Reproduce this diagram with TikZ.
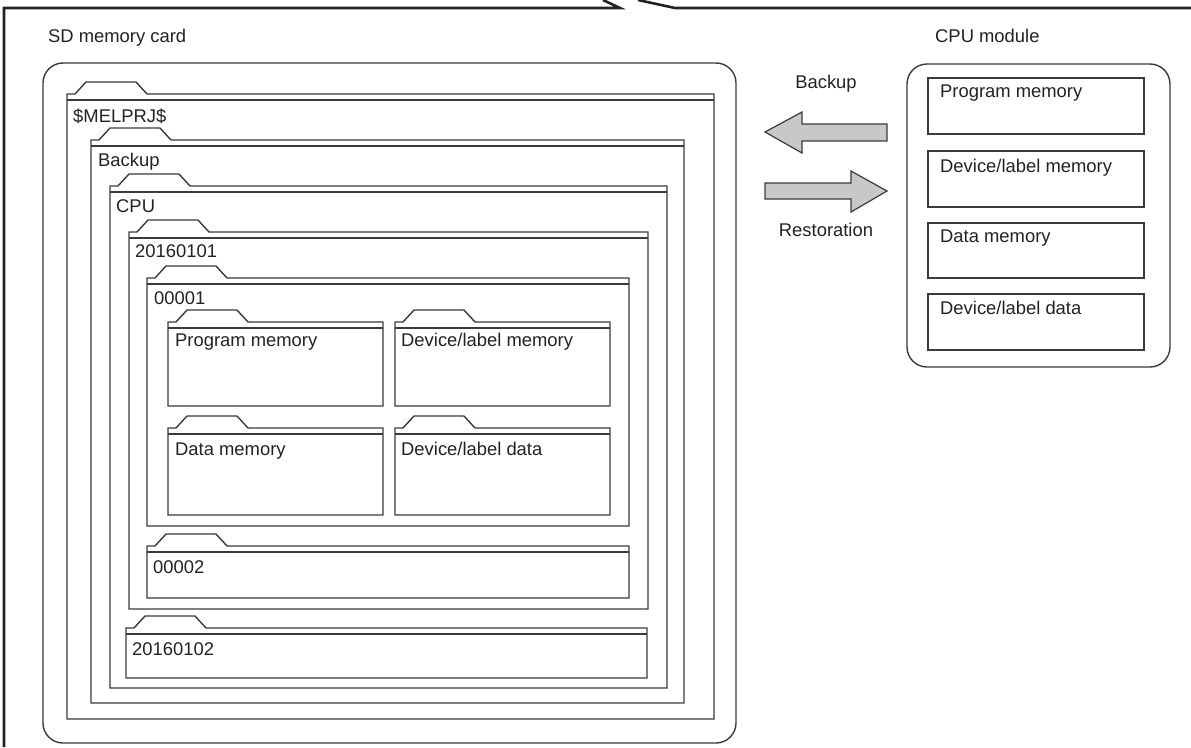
\documentclass[tikz,border=0pt]{standalone}
\usepackage{fontspec}
\setmainfont{Liberation Sans}
\definecolor{ln}{HTML}{3A3A3A}
\definecolor{tx}{HTML}{222222}
\definecolor{arrfill}{HTML}{C8C8C8}
\tikzset{
  fold/.style={draw=ln, line width=1.4pt, line join=miter},
  memcard/.style={draw=ln, line width=1.4pt, rounded corners=20pt},
  membox/.style={draw=ln, line width=1.4pt},
  frame/.style={draw=tx, line width=2.6pt},
  lbl/.style={anchor=base west, inner sep=0pt, text=tx, font=\fontsize{18.4}{22}\selectfont},
  clbl/.style={anchor=base, inner sep=0pt, text=tx, font=\fontsize{18.4}{22}\selectfont},
  blockarrow/.style={draw=ln, fill=arrfill, line width=1.2pt, line join=miter}
}
\newcommand\fldr[5]{%
  \draw[fold] (#2,#3) -- ++(8,0) -- ++(11,-12) -- ++(50,0) -- ++(11,12) -- (#4,#3) -- (#4,#5) -- (#2,#5) -- cycle;
  \draw[fold] (#2,#3+6) -- (#4,#3+6);
  \coordinate (#1) at (#2,#3+6);
}
\begin{document}
\begin{tikzpicture}[x=1pt,y=-1pt]
\useasboundingbox (0,0) rectangle (1191,747);
% outer callout frame
\draw[frame] (4,747) -- (4,8) -- (620,8) -- (603,0);
\draw[frame] (638,0) -- (675,8) -- (1191,8);
\node[lbl] (sdtitle) at (48,42) {SD memory card};
\node[lbl] (cputitle) at (935,42) {CPU module};
% SD memory card
\draw[memcard] (43,63) rectangle (736,743);
\coordinate (sdcard) at (43,63);
\fldr{melprj}{67}{94}{714}{719}
\node[lbl] (tmelprj) at (73,122) {\$MELPRJ\$};
\fldr{backup}{91}{140}{684}{703}
\node[lbl] (tbackup) at (98,166) {Backup};
\fldr{cpu}{110}{186}{667}{688}
\node[lbl] (tcpu) at (116,212) {CPU};
\fldr{d1}{129}{232}{648}{609}
\node[lbl] (td1) at (135,257) {20160101};
\fldr{n1}{147}{278}{629}{526}
\node[lbl] (tn1) at (154,304) {00001};
\fldr{pm}{168}{322}{383}{406}
\node[lbl] (tpm) at (175,346) {Program memory};
\fldr{dlm}{395}{322}{610}{406}
\node[lbl] (tdlm) at (401,346) {Device/label memory};
\fldr{dm}{168}{428}{383}{515}
\node[lbl] (tdm) at (175,455) {Data memory};
\fldr{dld}{395}{428}{610}{515}
\node[lbl] (tdld) at (401,455) {Device/label data};
\fldr{n2}{147}{546}{629}{598}
\node[lbl] (tn2) at (153,573) {00002};
\fldr{d2}{126}{628}{647}{678}
\node[lbl] (td2) at (132,655) {20160102};
% arrows
\draw[blockarrow] (765,132) -- (802,112) -- (802,124) -- (887,124) -- (887,141) -- (802,141) -- (802,153) -- cycle;
\draw[blockarrow] (887,191) -- (851,171) -- (851,183) -- (765,183) -- (765,199) -- (851,199) -- (851,212) -- cycle;
\node[clbl] (tbk) at (826,88) {Backup};
\node[clbl] (trs) at (826,236) {Restoration};
% CPU module
\draw[memcard] (907,64) rectangle (1170,367);
\coordinate (cpumod) at (907,64);
\draw[membox] (928,78) rectangle (1144,134);
\node[lbl] (cpm) at (940,97) {Program memory};
\draw[membox] (928,151) rectangle (1144,207);
\node[lbl] (cdlm) at (940,172) {Device/label memory};
\draw[membox] (928,223) rectangle (1144,278);
\node[lbl] (cdm) at (940,242) {Data memory};
\draw[membox] (928,294) rectangle (1144,350);
\node[lbl] (cdld) at (940,314) {Device/label data};
\end{tikzpicture}
\end{document}
